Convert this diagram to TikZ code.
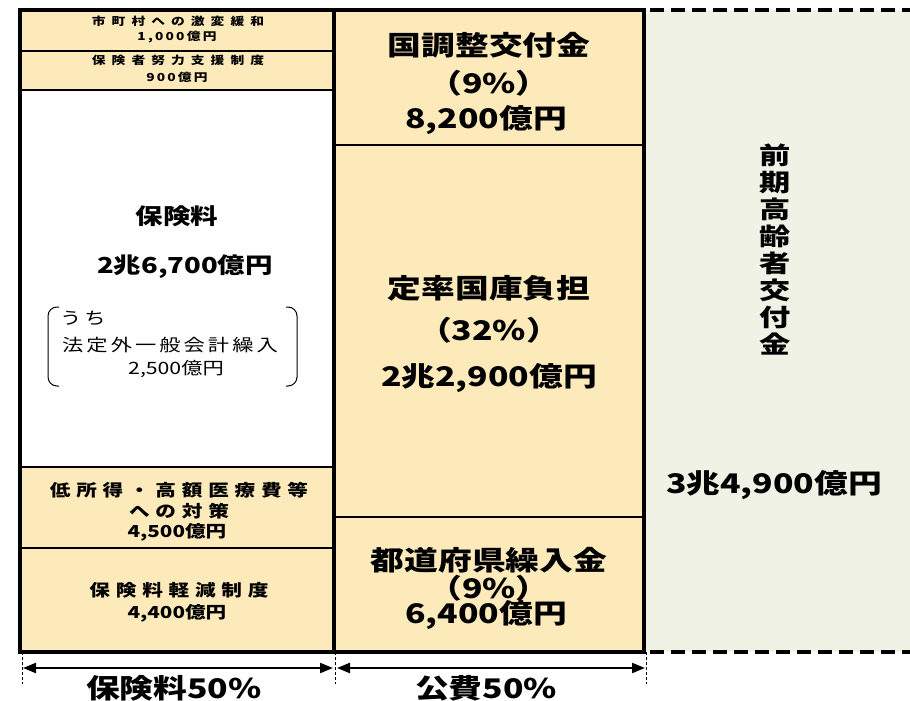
\documentclass[tikz,border=0pt]{standalone}
\usepackage{fontspec}
\setmainfont{Noto Sans CJK JP}[FakeStretch=1.25]
\newfontfamily\jpwide{Noto Sans CJK JP}[FakeStretch=1.3]
\usetikzlibrary{arrows.meta}
\definecolor{boxfill}{RGB}{253,234,186}
\definecolor{sidefill}{RGB}{240,242,229}
\begin{document}
\begin{tikzpicture}[x=1pt,y=-1pt,
  every node/.style={inner sep=0pt, align=center},
  big/.style={font=\bfseries\fontsize{27}{30}\selectfont},
  mid/.style={font=\bfseries\fontsize{22}{26}\selectfont},
  sml/.style={font=\bfseries\fontsize{16.5}{20}\selectfont\addfontfeature{LetterSpace=35}},
  smlnum/.style={font=\bfseries\fontsize{16.5}{20}\selectfont},
  tiny/.style={font=\bfseries\fontsize{11}{13}\selectfont\addfontfeature{LetterSpace=55}},
  tinynum/.style={font=\bfseries\fontsize{11}{13}\selectfont\addfontfeature{LetterSpace=20}},
  note/.style={font=\fontsize{17}{20}\selectfont\addfontfeature{LetterSpace=18}},
  notenum/.style={font=\fontsize{17}{20}\selectfont},
  thinline/.style={line width=1.2pt},
  thickline/.style={line width=4.5pt},
  dashline/.style={line width=4pt, dash pattern=on 14pt off 7pt},
  guide/.style={line width=0.8pt, dash pattern=on 3pt off 2pt},
  dimarrow/.style={line width=2.2pt, {Triangle[length=13pt,width=10pt]}-{Triangle[length=13pt,width=10pt]}},
  brack/.style={line width=1pt, rounded corners=9pt},
  lab/.style={font=\bfseries\fontsize{27}{30}\selectfont}
]
\useasboundingbox (0,0) rectangle (910,701);
% fills
\fill[boxfill] (20,10) rectangle (334,90);
\fill[white] (20,90) rectangle (334,467);
\fill[boxfill] (20,467) rectangle (334,652);
\fill[boxfill] (334,10) rectangle (644,652);
\fill[sidefill] (644,10) rectangle (910,652);
% thin dividers
\draw[thinline] (20,51) -- (334,51);
\draw[thinline] (20,90) -- (334,90);
\draw[thinline] (20,467) -- (334,467);
\draw[thinline] (20,548) -- (334,548);
\draw[thinline] (334,145) -- (644,145);
\draw[thinline] (334,517) -- (644,517);
% thick outline
\draw[thickline] (20,10) rectangle (644,652);
\draw[line width=4pt] (334,10) -- (334,652);
% dashed border of right area
\draw[dashline] (650,10) -- (910,10);
\draw[dashline] (650,652) -- (910,652);
% left column texts
\node[tiny] (t1) at (178,21) {市町村への激変緩和};
\node[tinynum] (t1b) at (177,37) {1,000億円};
\node[tiny] (t2) at (178,60) {保険者努力支援制度};
\node[tinynum] (t2b) at (177,77) {900億円};
\node[mid] (hk) at (177,216) {保険料};
\node[mid] (hkv) at (185,267) {2兆6,700億円};
\node[note, anchor=west] (uchi) at (60,318) {うち};
\node[note] (hotei) at (170,345) {法定外一般会計繰入};
\node[notenum] (hoteiv) at (176,369) {2,500億円};
\draw[brack] (59,307) -- (48,307) -- (48,386) -- (59,386);
\draw[brack] (286,307) -- (297,307) -- (297,386) -- (286,386);
\node[sml] (tei) at (179,490) {低所得・高額医療費等};
\node[sml] (tei2) at (179,511) {への対策};
\node[smlnum] (tei3) at (177,532) {4,500億円};
\node[sml] (kei) at (179,590) {保険料軽減制度};
\node[smlnum] (keiv) at (177,613) {4,400億円};
% middle column texts
\node[big] (kc) at (489,45) {国調整交付金};
\node[big] (kcp) at (489,83) {（9\%）};
\node[big] (kcv) at (486,120) {8,200億円};
\node[big] (tr) at (489,288) {定率国庫負担};
\node[big] (trp) at (489,330) {（32\%）};
\node[big] (trv) at (489,378) {2兆2,900億円};
\node[big] (td) at (489,560) {都道府県繰入金};
\node[big] (tdp) at (489,588) {（9\%）};
\node[big] (tdv) at (486,615) {6,400億円};
% right area
\node[font=\jpwide\bfseries\fontsize{24}{27}\selectfont] (zk) at (775,250)
  {前\\期\\高\\齢\\者\\交\\付\\金};
\node[big] (zkv) at (774,485) {3兆4,900億円};
% dimension guides
\coordinate (gl1) at (22,652); \coordinate (gl2) at (22,684);
\coordinate (gm1) at (335,652); \coordinate (gm2) at (335,684);
\coordinate (gr1) at (646,652); \coordinate (gr2) at (646,684);
\draw[guide] (gl1) -- (gl2);
\draw[guide] (gm1) -- (gm2);
\draw[guide] (gr1) -- (gr2);
\coordinate (al) at (23,668); \coordinate (am1) at (333,668);
\coordinate (am2) at (337,668); \coordinate (ar) at (645,668);
\draw[dimarrow] (al) -- (am1);
\draw[dimarrow] (am2) -- (ar);
\node[lab] (lb1) at (174,688) {保険料50\%};
\node[lab] (lb2) at (486,688) {公費50\%};
\end{tikzpicture}
\end{document}
